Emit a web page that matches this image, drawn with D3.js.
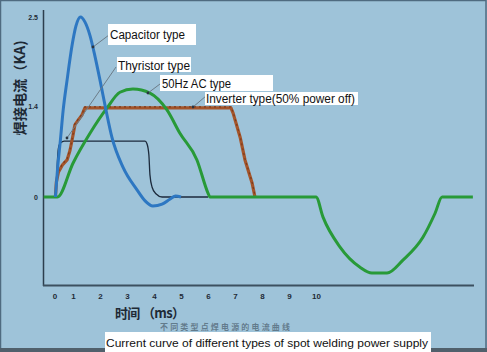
<!DOCTYPE html>
<html><head><meta charset="utf-8">
<script src="https://cdn.jsdelivr.net/npm/d3@7"></script>
<style>html,body{margin:0;padding:0;background:#9ec3d9;}svg{display:block;}</style>
</head><body>
<svg id="c" width="487" height="352"></svg>
<script>
// ---- data ----
const xTicks = [0,1,2,3,4,5,6,7,8,9,10];
const yTickValues = [0, 1.4, 2.5];
const yTickLabels = ["0", "1.4", "2.5"];

const capacitorT = [0.05,0.16,0.32,0.47,0.68,0.95,1.11,1.28,1.44,1.63,1.81,2.0,2.22,2.44,2.85,3.37,3.67,3.96,4.3,4.6,4.8,5.0];
const capacitorI = [0,0.415,0.88,1.34,1.72,2.15,2.39,2.5,2.44,2.27,2.02,1.72,1.34,0.92,0.46,0.11,-0.06,-0.14,-0.11,-0.03,0.015,0];

const thyristorT = [0.05,0.1,0.16,0.21,0.32,0.53,3.67,3.74,3.81,3.85,3.93,4.07,4.3,6.0];
const thyristorI = [0,0.18,0.57,0.75,0.83,0.86,0.86,0.82,0.65,0.34,0.15,0.05,0,0];

const acT = [-0.58,0.16,1.0,1.63,2.26,2.74,3.22,3.85,4.48,4.96,5.59,6.0,6.07,10.0,10.26,10.89,11.63,12.07,12.63,13.22,13.96,14.41,14.67,15.81];
const acI = [0,0,0.52,0.98,1.37,1.57,1.61,1.56,1.34,0.98,0.57,0.06,0,0,-0.31,-0.77,-1.08,-1.17,-1.17,-0.97,-0.62,-0.25,0,0];

const inverterT = [0.05,0.1,0.21,0.42,0.68,0.84,1.0,1.07,1.19,1.33,1.44,6.85,6.93,7.19,7.37,7.63,7.74];
const inverterI = [0,0.23,0.38,0.49,0.57,0.72,0.95,1.11,1.18,1.26,1.37,1.37,1.29,0.92,0.57,0.22,0];

const seriesNames = ["Capacitor type","Thyristor type","50Hz AC type","Inverter type(50% power off)"];
const xTitle = "时间 （ms）";
const yTitle = "焊接电流（KA)";
const caption = "Current curve of different types of spot welding power supply";
const captionZh = "不同类型点焊电源的电流曲线";

// ---- scales ----
const x = d3.scaleLinear().domain([0,1,10]).range([54.5,73,316]);
const y = d3.scaleLinear().domain([0,1.4,2.5]).range([197,106,17]);

const svg = d3.select("#c");
svg.append("rect").attr("width",487).attr("height",352).attr("fill","#9ec3d9");
// frame
svg.append("rect").attr("x",0.5).attr("y",0.5).attr("width",485.5).attr("height",350).attr("fill","none").attr("stroke","#4f6b80").attr("stroke-width",1.5);
svg.append("rect").attr("x",0).attr("y",348).attr("width",487).attr("height",4).attr("fill","#50606c");

// axes lines
svg.append("line").attr("x1",43.5).attr("x2",43.5).attr("y1",10).attr("y2",286).attr("stroke","#2c3e4e").attr("stroke-width",1.5);
svg.append("line").attr("x1",43).attr("x2",474).attr("y1",285.5).attr("y2",285.5).attr("stroke","#3c5060").attr("stroke-width",2);

// x tick labels
const xAxis = d3.axisBottom(x).tickValues(xTicks).tickSize(0).tickFormat(d3.format("d"));
const gx = svg.append("g").attr("transform","translate(0,290)").call(xAxis);
gx.select(".domain").remove();
gx.selectAll("text").attr("font-family","Liberation Sans, Arial, sans-serif").attr("font-size",8).attr("font-weight","bold").attr("fill","#1e2a36");

// y tick labels
const yAxis = d3.axisLeft(y).tickValues(yTickValues).tickSize(0).tickFormat((d,i)=>yTickLabels[i]);
const gy = svg.append("g").attr("transform","translate(41,0)").call(yAxis);
gy.select(".domain").remove();
gy.selectAll("text").attr("font-family","Liberation Sans, Arial, sans-serif").attr("font-size",7).attr("font-weight","bold").attr("fill","#1e2a36");

// axis titles
svg.append("text").attr("x",115).attr("y",318).attr("font-family","Noto Sans CJK SC, sans-serif").attr("font-size",13).attr("font-weight","bold").attr("fill","#1e2a36").attr("textLength",70).text(xTitle);
svg.append("text").attr("transform","translate(25,88) rotate(-90)").attr("text-anchor","middle").attr("font-family","Noto Sans CJK SC, sans-serif").attr("font-size",14).attr("font-weight","bold").attr("fill","#1e2a36").attr("textLength",95).attr("lengthAdjust","spacingAndGlyphs").text(yTitle);

// lines
const zip = (a,b)=>a.map((v,i)=>[v,b[i]]);
const lineM = d3.line().x(d=>x(d[0])).y(d=>y(d[1])).curve(d3.curveMonotoneX);
const lineL = d3.line().x(d=>x(d[0])).y(d=>y(d[1])).curve(d3.curveLinear);

svg.append("path").datum(zip(thyristorT,thyristorI)).attr("d",lineM).attr("fill","none").attr("stroke","#1c2a3c").attr("stroke-width",1.3);
svg.append("path").datum(zip(inverterT,inverterI)).attr("d",lineL).attr("fill","none").attr("stroke","#a4552b").attr("stroke-width",3.2).attr("stroke-linejoin","round");
svg.append("path").datum(zip(inverterT,inverterI)).attr("d",lineL).attr("fill","none").attr("stroke","#7d3a1a").attr("stroke-width",1.2).attr("stroke-dasharray","2,3").attr("transform","translate(0,-1)");
svg.append("path").datum(zip(acT,acI)).attr("d",lineM).attr("fill","none").attr("stroke","#289a38").attr("stroke-width",3).attr("stroke-linejoin","round");
svg.append("path").datum(zip(capacitorT,capacitorI)).attr("d",lineM).attr("fill","none").attr("stroke","#2d77c2").attr("stroke-width",3).attr("stroke-linejoin","round");

// labels with white boxes and leader lines
const labels = [
  {name:seriesNames[0], bx:108, by:24, bw:88, bh:21, tx:110, ty:39, tl:75, lx1:109, ly1:35, lx2:93, ly2:47},
  {name:seriesNames[1], bx:117, by:57, bw:74, bh:15, tx:118, ty:70, tl:72, lx1:116, ly1:67, lx2:67, ly2:138},
  {name:seriesNames[2], bx:160, by:75, bw:113, bh:16, tx:162, ty:88, tl:69, lx1:160, ly1:84, lx2:148, ly2:93},
  {name:seriesNames[3], bx:205, by:92, bw:153, bh:13, tx:206, ty:103, tl:149, lx1:206, ly1:96, lx2:193, ly2:107}
];
labels.forEach(l=>{
  svg.append("line").attr("x1",l.lx1).attr("y1",l.ly1).attr("x2",l.lx2).attr("y2",l.ly2).attr("stroke","#6c7c88").attr("stroke-width",1);
  svg.append("circle").attr("cx",l.lx2).attr("cy",l.ly2).attr("r",1.4).attr("fill","#2a3440");
  svg.append("rect").attr("x",l.bx).attr("y",l.by).attr("width",l.bw).attr("height",l.bh).attr("fill","#ffffff");
  svg.append("text").attr("x",l.tx).attr("y",l.ty).attr("font-family","Liberation Sans, Arial, sans-serif").attr("font-size",12).attr("fill","#111").attr("textLength",l.tl).attr("lengthAdjust","spacingAndGlyphs").text(l.name);
});

// caption
svg.append("text").attr("x",160).attr("y",330).attr("font-family","Noto Sans CJK SC, sans-serif").attr("font-size",8).attr("font-weight","bold").attr("fill","#3a4a58").attr("fill-opacity",0.6).attr("textLength",130).text(captionZh);
svg.append("rect").attr("x",105).attr("y",332).attr("width",326).attr("height",20).attr("fill","#ffffff");
svg.append("text").attr("x",106).attr("y",347).attr("font-family","Liberation Sans, Arial, sans-serif").attr("font-size",11).attr("fill","#111").attr("textLength",322).attr("lengthAdjust","spacingAndGlyphs").text(caption);
</script>
</body></html>
